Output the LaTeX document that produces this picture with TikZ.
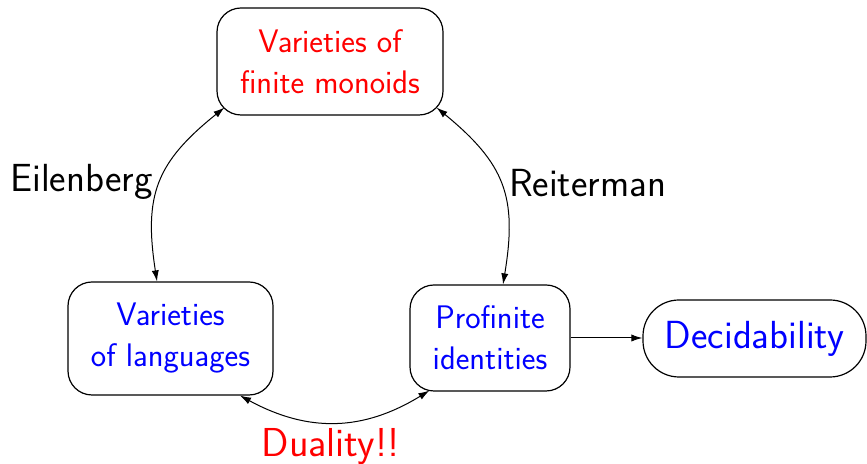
\documentclass[tikz,border=0pt]{standalone}
\usetikzlibrary{arrows.meta}
\begin{document}
\begin{tikzpicture}[x=0.5pt,y=0.5pt,
  font=\sffamily,
  box/.style={draw=black, line width=0.6pt, rounded corners=12pt, align=center,
    inner sep=0pt, font=\sffamily\fontsize{16.3}{20.5}\selectfont},
  pill/.style={draw=black, line width=0.6pt, rounded corners=18pt, align=center,
    inner sep=0pt, font=\sffamily\fontsize{19.6}{22}\selectfont},
  lbl/.style={anchor=base, inner sep=0pt, font=\sffamily\fontsize{19.6}{22}\selectfont},
  link/.style={line width=0.5pt, {Latex[length=5.5pt,width=3.6pt]}-{Latex[length=5.5pt,width=3.6pt]}},
  onearrow/.style={line width=0.5pt, -{Latex[length=5.5pt,width=3.6pt]}}
]
\useasboundingbox (0,0) rectangle (867,464);

% the four boxes
\node[box, text=red, minimum width=113pt, minimum height=53.5pt] (mon) at (330,402.5)
  {Varieties of\\finite monoids};
\node[box, text=blue, minimum width=102.5pt, minimum height=56.5pt] (lang) at (170.5,125.5)
  {Varieties\\of languages};
\node[box, text=blue, minimum width=80pt, minimum height=53pt] (pif) at (490,126)
  {Profinite\\identities};
\node[pill, text=blue, minimum width=111.5pt, minimum height=38.5pt] (dec) at (754.5,125.5)
  {Decidability};

% end points of the curved connectors
\coordinate (e1) at ([xshift=-6.75pt]lang.north);
\coordinate (e2) at ([shift={(8,8)}]mon.south west);
\coordinate (r1) at ([xshift=6.5pt]pif.north);
\coordinate (r2) at ([shift={(-7,8)}]mon.south east);
\coordinate (d1) at ([xshift=34.75pt]lang.south);
\coordinate (d2) at ([shift={(20,1)}]pif.south west);

% connectors
\draw[link] (e1) to[bend left=30, looseness=1.2] (e2);
\draw[link] (r1) to[bend right=30, looseness=1.2] (r2);
\draw[link] (d1) to[bend right=30, looseness=1.05] (d2);
\draw[onearrow] (pif.east) -- (pif.east -| dec.west);

% labels
\node[lbl] (eil) at (81.5,272) {Eilenberg};
\node[lbl] (rei) at (587.5,267) {Reiterman};
\node[lbl, text=red, font=\sffamily\fontsize{20.2}{22}\selectfont] (dua) at (330.5,7) {Duality!!};
\end{tikzpicture}
\end{document}
